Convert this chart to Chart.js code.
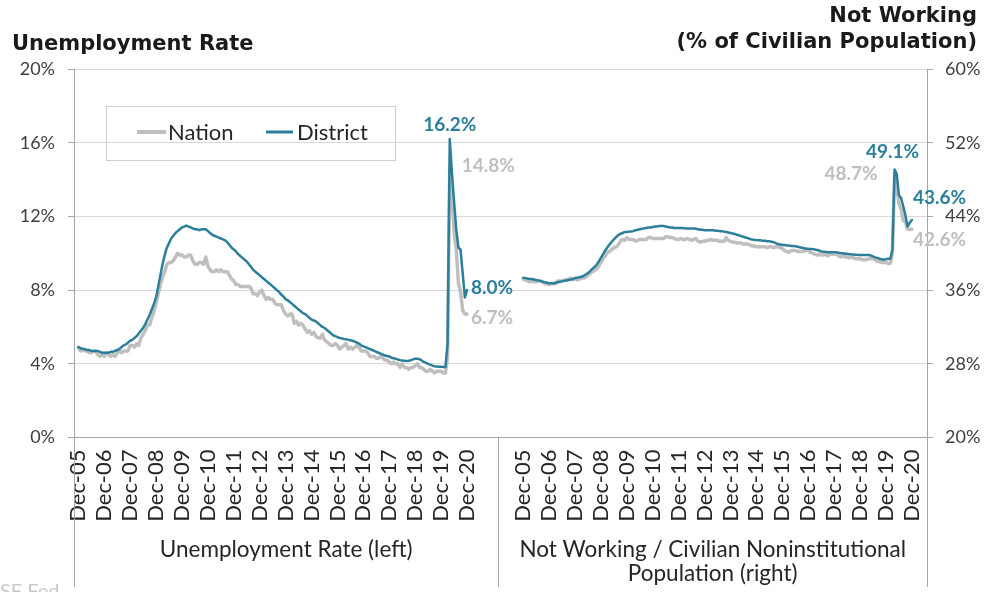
<!DOCTYPE html>
<html>
<head>
<meta charset="utf-8">
<script src="https://cdn.jsdelivr.net/npm/chart.js@4.4.1/dist/chart.umd.min.js"></script>
<style>
  html, body { margin: 0; padding: 0; background: #fff; }
  canvas { display: block; }
</style>
</head>
<body>
<canvas id="chart" width="987" height="592"></canvas>
<script>
// monthly categories Dec-05 .. Dec-20
const MONTH_NAMES = ['Jan','Feb','Mar','Apr','May','Jun','Jul','Aug','Sep','Oct','Nov','Dec'];
const months = [];
for (let yr = 2005, mo = 11; months.length < 181; ) {
    months.push(MONTH_NAMES[mo] + '-' + String(yr % 100).padStart(2, '0'));
    mo++;
    if (mo === 12) { mo = 0; yr++; }
}

// unemployment rate, %
const unempNation = [
    4.9,
    4.7,4.8,4.7,4.7,4.6,4.6,4.7,4.7,4.5,4.4,4.5,4.4,
    4.6,4.5,4.4,4.5,4.4,4.6,4.7,4.6,4.7,4.7,4.7,5.0,
    5.0,4.9,5.1,5.0,5.4,5.6,5.8,6.1,6.1,6.5,6.8,7.3,
    7.8,8.3,8.7,9.0,9.4,9.5,9.5,9.6,9.8,10.0,9.9,9.9,
    9.8,9.8,9.9,9.9,9.6,9.4,9.4,9.5,9.5,9.4,9.8,9.3,
    9.1,9.0,9.0,9.1,9.0,9.1,9.0,9.0,9.0,8.8,8.6,8.5,
    8.3,8.3,8.2,8.2,8.2,8.2,8.2,8.1,7.8,7.8,7.7,7.9,
    8.0,7.7,7.5,7.6,7.5,7.5,7.3,7.2,7.2,7.2,6.9,6.7,
    6.6,6.7,6.7,6.2,6.3,6.1,6.2,6.1,5.9,5.7,5.8,5.6,
    5.7,5.5,5.4,5.4,5.6,5.3,5.2,5.1,5.0,5.0,5.1,5.0,
    4.8,4.9,5.0,5.1,4.8,4.9,4.8,4.9,5.0,4.9,4.7,4.7,
    4.7,4.6,4.4,4.4,4.4,4.3,4.3,4.4,4.3,4.2,4.2,4.1,
    4.0,4.1,4.0,4.0,3.8,4.0,3.8,3.8,3.7,3.8,3.8,3.9,
    4.0,3.8,3.8,3.7,3.6,3.6,3.7,3.6,3.5,3.6,3.6,3.6,
    3.5,3.5,4.4,14.8,13.3,11.1,10.2,8.4,7.9,6.9,6.7,6.7
];
const unempDistrict = [
    4.9,
    4.85,4.8,4.8,4.75,4.75,4.7,4.7,4.7,4.7,4.65,4.6,4.6,
    4.6,4.6,4.65,4.65,4.7,4.75,4.8,4.9,5.0,5.05,5.15,5.25,
    5.3,5.4,5.5,5.65,5.8,5.95,6.15,6.4,6.65,6.95,7.25,7.6,
    8.2,8.8,9.4,9.9,10.3,10.55,10.8,10.95,11.1,11.2,11.3,11.4,
    11.45,11.5,11.45,11.4,11.35,11.3,11.3,11.25,11.3,11.3,11.3,11.2,
    11.1,11.0,10.95,10.9,10.85,10.8,10.75,10.7,10.6,10.45,10.3,10.2,
    10.1,9.95,9.85,9.75,9.65,9.55,9.4,9.25,9.1,9.0,8.9,8.8,
    8.7,8.6,8.5,8.4,8.3,8.2,8.1,8.0,7.9,7.75,7.65,7.5,
    7.45,7.35,7.25,7.15,7.05,6.95,6.85,6.75,6.7,6.6,6.5,6.4,
    6.35,6.3,6.2,6.1,6.0,5.95,5.85,5.75,5.65,5.55,5.5,5.45,
    5.4,5.38,5.35,5.33,5.3,5.28,5.25,5.2,5.15,5.1,5.0,4.95,
    4.9,4.85,4.8,4.75,4.7,4.65,4.6,4.55,4.5,4.45,4.42,4.4,
    4.33,4.3,4.27,4.23,4.2,4.18,4.16,4.15,4.17,4.2,4.24,4.27,
    4.27,4.25,4.18,4.1,4.05,4.0,3.95,3.9,3.86,3.85,3.84,3.84,
    3.83,3.82,5.1,16.2,14.4,12.8,11.3,10.3,10.2,8.9,7.6,8.0
];

// not working, % of civilian noninstitutional population
const notWorkingNation = [
    37.2,
    37.1,37.0,36.9,37.0,36.9,36.9,37.0,37.0,36.9,36.7,36.7,36.6,
    36.7,36.7,36.7,37.0,37.0,37.0,37.1,37.1,37.2,37.3,37.1,37.3,
    37.1,37.2,37.3,37.3,37.4,37.6,37.8,38.0,38.1,38.3,38.6,39.0,
    39.4,39.7,40.1,40.2,40.4,40.6,40.7,40.9,41.3,41.5,41.4,41.7,
    41.5,41.5,41.5,41.3,41.4,41.5,41.5,41.5,41.5,41.7,41.7,41.6,
    41.6,41.6,41.6,41.6,41.6,41.8,41.8,41.7,41.7,41.6,41.5,41.5,
    41.6,41.5,41.5,41.6,41.5,41.4,41.5,41.6,41.3,41.2,41.3,41.3,
    41.4,41.4,41.5,41.4,41.4,41.4,41.3,41.3,41.3,41.7,41.4,41.3,
    41.2,41.2,41.1,41.1,41.1,41.0,41.0,41.0,40.9,40.8,40.8,40.7,
    40.7,40.7,40.7,40.7,40.6,40.7,40.7,40.6,40.7,40.7,40.6,40.5,
    40.3,40.2,40.1,40.3,40.3,40.3,40.2,40.2,40.2,40.2,40.3,40.3,
    40.1,40.0,39.9,39.8,39.9,39.8,39.8,39.9,39.7,39.9,39.9,39.9,
    39.9,39.7,39.6,39.7,39.6,39.6,39.5,39.6,39.5,39.4,39.4,39.4,
    39.3,39.3,39.3,39.4,39.4,39.4,39.3,39.1,39.1,39.0,39.0,39.0,
    38.9,38.9,40.0,48.7,47.2,45.4,44.8,43.5,43.4,42.6,42.6,42.6
];
const notWorkingDistrict = [
    37.35,
    37.3,37.25,37.2,37.2,37.15,37.1,37.05,37.0,36.9,36.85,36.8,36.75,
    36.75,36.75,36.8,36.85,36.9,36.95,37.0,37.05,37.1,37.15,37.2,37.3,
    37.35,37.4,37.45,37.55,37.7,37.85,38.05,38.3,38.5,38.75,39.1,39.5,
    39.9,40.3,40.65,40.95,41.25,41.5,41.75,41.95,42.1,42.2,42.3,42.3,
    42.35,42.35,42.4,42.5,42.55,42.6,42.65,42.7,42.75,42.8,42.8,42.85,
    42.9,42.9,42.95,42.95,42.95,42.9,42.85,42.8,42.8,42.75,42.75,42.75,
    42.75,42.75,42.7,42.7,42.7,42.7,42.7,42.65,42.6,42.55,42.55,42.5,
    42.5,42.5,42.5,42.5,42.45,42.45,42.4,42.4,42.35,42.3,42.25,42.2,
    42.15,42.1,42.0,41.95,41.85,41.8,41.7,41.65,41.55,41.5,41.45,41.45,
    41.4,41.4,41.35,41.35,41.3,41.3,41.25,41.2,41.1,41.0,40.95,40.9,
    40.9,40.85,40.85,40.8,40.8,40.75,40.7,40.65,40.6,40.55,40.5,40.5,
    40.45,40.45,40.4,40.35,40.3,40.2,40.15,40.15,40.1,40.1,40.1,40.1,
    40.1,40.05,40.0,40.0,39.95,39.95,39.9,39.9,39.85,39.85,39.8,39.8,
    39.8,39.8,39.8,39.8,39.75,39.65,39.55,39.5,39.4,39.35,39.3,39.35,
    39.4,39.4,40.4,49.1,48.6,46.3,46.0,45.1,44.1,42.9,43.3,43.6
];

const leftTicks = [0, 4, 8, 12, 16, 20];
const rightTicks = [20, 28, 36, 44, 52, 60];

// empty slots around each group on the shared category axis
const PAD_A = 2, PAD_B = 14, PAD_C = 11, PAD_D = 7;
const blanks = n => new Array(n).fill('');
const nulls = n => new Array(n).fill(null);

const labels = [...blanks(PAD_A), ...months, ...blanks(PAD_B), ...blanks(PAD_C), ...months, ...blanks(PAD_D)];
const LEFT_START = PAD_A;
const RIGHT_START = PAD_A + months.length + PAD_B + PAD_C;
const DIVIDER = PAD_A + months.length + PAD_B; // first slot of right group

const leftSeries = arr => [...nulls(PAD_A), ...arr, ...nulls(PAD_B + PAD_C + months.length + PAD_D)];
const rightSeries = arr => [...nulls(PAD_A + months.length + PAD_B + PAD_C), ...arr, ...nulls(PAD_D)];

const TEAL = '#2b7f9b';
const GRAY = '#bfbfbf';
const AXIS = '#a6a6a6';
const FONT = 'Lato, "Open Sans", sans-serif';
const TITLE_FONT = '"DejaVu Sans", Lato, sans-serif';

const APR20 = months.indexOf('Apr-20');
const DEC20 = months.indexOf('Dec-20');

const overlay = {
    id: 'overlay',
    afterDraw(chart) {
        const { ctx, chartArea: a, scales: { x } } = chart;
        ctx.save();

        // extended axis / group divider lines
        const divX = (x.getPixelForValue(DIVIDER - 1) + x.getPixelForValue(DIVIDER)) / 2;
        ctx.strokeStyle = AXIS;
        ctx.lineWidth = 1;
        ctx.beginPath();
        [a.left, divX, a.right].forEach(px => {
            const xx = Math.round(px) + 0.5;
            ctx.moveTo(xx, a.bottom);
            ctx.lineTo(xx, 587);
        });
        ctx.stroke();

        // group labels
        ctx.fillStyle = '#262626';
        ctx.font = '22.5px ' + FONT;
        ctx.textAlign = 'center';
        ctx.textBaseline = 'middle';
        ctx.fillText('Unemployment Rate (left)', (a.left + divX) / 2, 550);
        ctx.fillText('Not Working / Civilian Noninstitutional', (divX + a.right) / 2, 550);
        ctx.fillText('Population (right)', (divX + a.right) / 2, 574);

        // axis titles
        ctx.fillStyle = '#1a1a1a';
        ctx.font = 'bold 21px ' + TITLE_FONT;
        ctx.textBaseline = 'alphabetic';
        ctx.textAlign = 'left';
        ctx.fillText('Unemployment Rate', 12, 50);
        ctx.textAlign = 'right';
        ctx.fillText('Not Working', 977, 22);
        ctx.fillText('(% of Civilian Population)', 977, 48);

        // source
        ctx.fillStyle = '#c8c8c8';
        ctx.font = '20px ' + FONT;
        ctx.textAlign = 'left';
        ctx.fillText('SF Fed', 0, 598);

        // legend
        ctx.strokeStyle = '#cfcfcf';
        ctx.strokeRect(106.5, 106.5, 289, 54);
        ctx.lineCap = 'butt';
        ctx.strokeStyle = GRAY; ctx.lineWidth = 4;
        ctx.beginPath(); ctx.moveTo(137, 132); ctx.lineTo(166, 132); ctx.stroke();
        ctx.strokeStyle = TEAL; ctx.lineWidth = 3;
        ctx.beginPath(); ctx.moveTo(266, 132); ctx.lineTo(293, 132); ctx.stroke();
        ctx.fillStyle = '#262626';
        ctx.font = '22px ' + FONT;
        ctx.textBaseline = 'middle';
        ctx.fillText('Nation', 168, 133);
        ctx.fillText('District', 297, 133);

        // value call-outs
        const pt = (ds, i) => chart.getDatasetMeta(ds).data[i];
        const note = (ds, i, text, color, align, dx, dy) => {
            const p = pt(ds, i);
            ctx.fillStyle = color;
            ctx.textAlign = align;
            ctx.fillText(text, p.x + dx, p.y + dy);
        };
        ctx.font = 'bold 19px ' + FONT;
        ctx.textBaseline = 'middle';
        note(1, LEFT_START + APR20, '16.2%', TEAL, 'center', 0, -14);
        note(0, LEFT_START + APR20, '14.8%', GRAY, 'left', 12, 1);
        note(1, LEFT_START + DEC20, '8.0%', TEAL, 'left', 4, -2);
        note(0, LEFT_START + DEC20, '6.7%', GRAY, 'left', 4, 4);
        note(3, RIGHT_START + APR20, '49.1%', TEAL, 'center', -2, -18);
        note(2, RIGHT_START + APR20, '48.7%', GRAY, 'right', -17, 1);
        note(3, RIGHT_START + DEC20, '43.6%', TEAL, 'left', 1, -22);
        note(2, RIGHT_START + DEC20, '42.6%', GRAY, 'left', 1, 11);

        ctx.restore();
    }
};

new Chart(document.getElementById('chart'), {
    type: 'line',
    data: {
        labels: labels,
        datasets: [
            { label: 'Nation', data: leftSeries(unempNation), yAxisID: 'y', borderColor: GRAY, borderWidth: 3.5, order: 1 },
            { label: 'District', data: leftSeries(unempDistrict), yAxisID: 'y', borderColor: TEAL, borderWidth: 2.5, order: 0 },
            { label: 'Nation', data: rightSeries(notWorkingNation), yAxisID: 'y2', borderColor: GRAY, borderWidth: 3.5, order: 1 },
            { label: 'District', data: rightSeries(notWorkingDistrict), yAxisID: 'y2', borderColor: TEAL, borderWidth: 2.5, order: 0 }
        ]
    },
    options: {
        responsive: false,
        animation: false,
        devicePixelRatio: 1,
        layout: { padding: { top: 69, left: 0, right: 0, bottom: 0 } },
        elements: {
            point: { radius: 0, hoverRadius: 0 },
            line: { tension: 0, fill: false, borderJoinStyle: 'round', borderCapStyle: 'round' }
        },
        plugins: {
            legend: { display: false },
            tooltip: { enabled: false }
        },
        scales: {
            x: {
                type: 'category',
                offset: false,
                grid: { display: false, drawTicks: false },
                border: { display: true, color: AXIS },
                ticks: {
                    autoSkip: false,
                    minRotation: 90,
                    maxRotation: 90,
                    padding: 12,
                    color: '#262626',
                    font: { family: FONT, size: 22 },
                    callback: function (value) {
                        const l = this.getLabelForValue(value);
                        return l.startsWith('Dec') ? l : '';
                    }
                },
                afterFit: s => { s.height = 154.5; }
            },
            y: {
                position: 'left',
                min: 0,
                max: 20,
                afterBuildTicks: s => { s.ticks = leftTicks.map(v => ({ value: v })); },
                grid: {
                    color: c => (c.tick && c.tick.value === 0 ? AXIS : '#d9d9d9'),
                    tickColor: AXIS,
                    tickLength: 6
                },
                border: { display: true, color: AXIS },
                ticks: {
                    padding: 13,
                    color: '#404040',
                    font: { family: FONT, size: 18 },
                    callback: v => v + '%'
                },
                afterFit: s => { s.width = 74; }
            },
            y2: {
                position: 'right',
                min: 20,
                max: 60,
                afterBuildTicks: s => { s.ticks = rightTicks.map(v => ({ value: v })); },
                grid: { drawOnChartArea: false, tickColor: AXIS, tickLength: 6 },
                border: { display: true, color: AXIS },
                ticks: {
                    padding: 12,
                    color: '#404040',
                    font: { family: FONT, size: 18 },
                    callback: v => v + '%'
                },
                afterFit: s => { s.width = 60; }
            }
        }
    },
    plugins: [overlay]
});
</script>
</body>
</html>
